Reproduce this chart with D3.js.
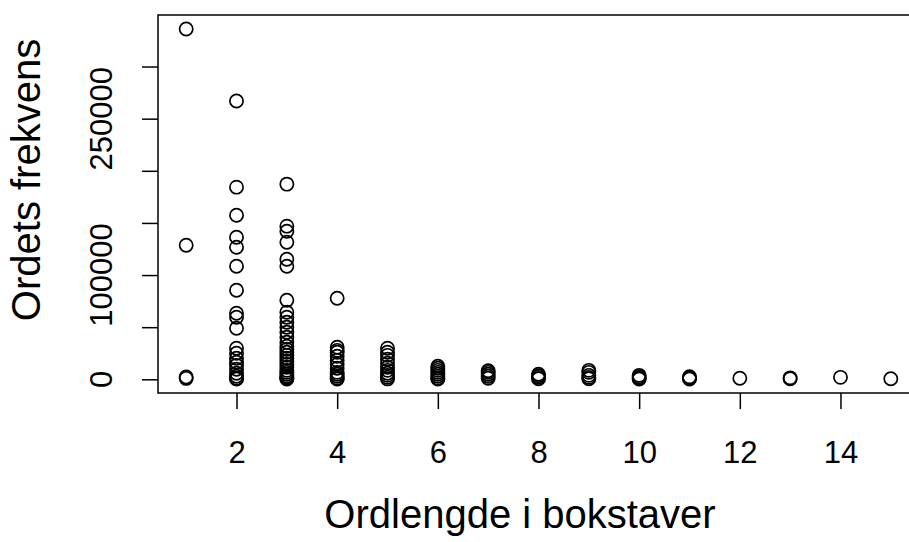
<!DOCTYPE html>
<html>
<head>
<meta charset="utf-8">
<script src="https://cdn.jsdelivr.net/npm/d3@7"></script>
<style>
  html, body { margin: 0; padding: 0; background: #fff; }
  svg { display: block; }
  text { font-family: "Liberation Sans", Arial, Helvetica, sans-serif; fill: #000; }
</style>
</head>
<body>
<svg id="chart" width="909" height="542"></svg>
<script>
// Word length (letters) and corpus frequency for each word
const wordLength = [
  1, 1, 1, 1,
  2, 2, 2, 2, 2, 2, 2, 2, 2, 2, 2, 2, 2, 2, 2, 2, 2, 2, 2, 2,
  3, 3, 3, 3, 3, 3, 3, 3, 3, 3, 3, 3, 3, 3, 3, 3, 3, 3, 3, 3, 3, 3, 3, 3, 3, 3, 3, 3, 3,
  4, 4, 4, 4, 4, 4, 4, 4, 4, 4, 4, 4, 4,
  5, 5, 5, 5, 5, 5, 5, 5, 5, 5, 5,
  6, 6, 6, 6, 6, 6, 6, 6,
  7, 7, 7, 7, 7,
  8, 8, 8, 8,
  9, 9, 9, 9, 9,
  10, 10, 10, 10,
  11, 11, 11,
  12,
  13, 13,
  14,
  15
];
const frequency = [
  336000, 128600, 2200, 900,
  266900, 184300, 157400, 136300, 126700, 108500, 85400, 63400, 59500, 49000,
  29800, 25000, 20200, 16300, 13400, 9600, 5800, 2900, 1000, 300,
  187200, 146900, 142000, 131500, 115200, 108500, 75800, 64300, 59500, 54700,
  49900, 45100, 40300, 35500, 31700, 28800, 25900, 23000, 20200, 17300,
  14400, 11500, 8600, 6700, 4800, 2900, 1900, 1000, 300,
  77800, 30700, 27800, 25900, 22100, 18200, 14400, 10600, 6700, 4800, 2900, 1000, 300,
  29800, 25900, 23000, 19200, 15400, 11500, 8600, 5800, 3800, 1900, 400,
  12500, 10600, 8600, 6700, 4800, 2900, 1000, 300,
  8200, 6700, 4800, 2900, 1000,
  4800, 3400, 1900, 500,
  8600, 6700, 3800, 1900, 500,
  3800, 2400, 1000, 300,
  2400, 1000, 300,
  1000,
  1400, 500,
  1900,
  500
];

const xTicks = [2, 4, 6, 8, 10, 12, 14];
const yTicks = [0, 50000, 100000, 150000, 200000, 250000, 300000];
const yTickLabels = [0, 100000, 250000];   // labels left after overlap removal
const xTitle = "Ordlengde i bokstaver";
const yTitle = "Ordets frekvens";

// Plot region
const plot = { left: 158, right: 919, top: 15, bottom: 393 };

// Pad the data range by 4% on each side
function padded(ext) {
  const d = (ext[1] - ext[0]) * 0.04;
  return [ext[0] - d, ext[1] + d];
}

const x = d3.scaleLinear().domain(padded(d3.extent(wordLength))).range([plot.left, plot.right]);
const y = d3.scaleLinear().domain(padded(d3.extent(frequency))).range([plot.bottom, plot.top]);

const svg = d3.select("#chart");
const tickSize = 16;
const tickFont = 31;
const titleFont = 40;

// Points
const pts = d3.range(wordLength.length).map(i => ({ len: wordLength[i], f: frequency[i] }));
svg.append("g")
  .selectAll("circle")
  .data(pts)
  .join("circle")
  .attr("cx", d => x(d.len))
  .attr("cy", d => y(d.f))
  .attr("r", 6.6)
  .attr("fill", "none")
  .attr("stroke", "#000")
  .attr("stroke-width", 1.7);

// Bottom axis
const xAxis = svg.append("g")
  .attr("transform", `translate(0,${plot.bottom})`)
  .call(d3.axisBottom(x).tickValues(xTicks).tickSize(tickSize).tickPadding(0).tickFormat(d3.format("d")));
xAxis.select(".domain").remove();
xAxis.selectAll("line").attr("stroke", "#000").attr("stroke-width", 1.5);
xAxis.selectAll("text")
  .attr("font-size", tickFont)
  .attr("font-family", "Liberation Sans, Arial, sans-serif")
  .attr("y", 70)
  .attr("dy", 0)
  .style("fill", "#000");

// Left axis: all ticks, labels only where they fit
const yAxis = svg.append("g")
  .attr("transform", `translate(${plot.left},0)`)
  .call(d3.axisLeft(y).tickValues(yTicks).tickSize(tickSize).tickFormat(() => ""));
yAxis.select(".domain").remove();
yAxis.selectAll("line").attr("stroke", "#000").attr("stroke-width", 1.5);

svg.append("g")
  .selectAll("text")
  .data(yTickLabels)
  .join("text")
  .attr("transform", d => `translate(112,${y(d)}) rotate(-90)`)
  .attr("text-anchor", "middle")
  .attr("font-size", tickFont)
  .text(d => d3.format("d")(d));

// Plot frame
svg.append("rect")
  .attr("x", plot.left)
  .attr("y", plot.top)
  .attr("width", plot.right - plot.left)
  .attr("height", plot.bottom - plot.top)
  .attr("fill", "none")
  .attr("stroke", "#000")
  .attr("stroke-width", 1.5);

// Axis titles
svg.append("text")
  .attr("x", 520)
  .attr("y", 528)
  .attr("text-anchor", "middle")
  .attr("font-size", titleFont)
  .text(xTitle);

svg.append("text")
  .attr("transform", "translate(40,180) rotate(-90)")
  .attr("text-anchor", "middle")
  .attr("font-size", titleFont)
  .text(yTitle);
</script>
</body>
</html>
